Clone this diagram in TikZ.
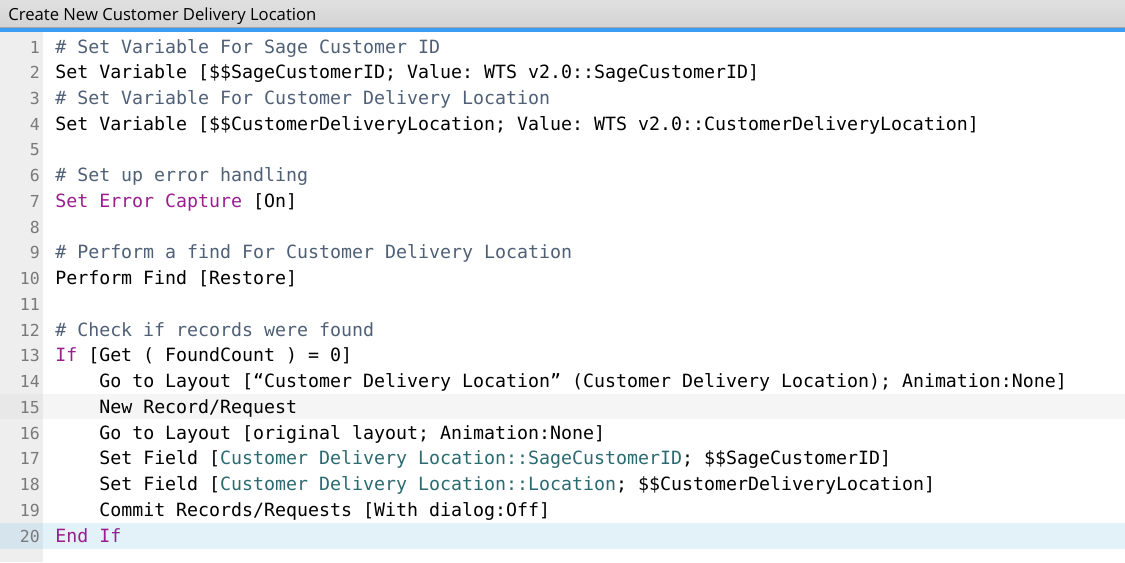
\documentclass[tikz,border=0pt]{standalone}
\usepackage{fontspec}
\setmainfont{Open Sans}
\newfontfamily\codefont{DejaVu Sans Mono}
\usetikzlibrary{positioning}
\definecolor{cmtgray}{HTML}{4F6076}
\definecolor{kwpurple}{HTML}{9A1E8E}
\definecolor{fldteal}{HTML}{2A6A70}
\definecolor{barblue}{HTML}{3A9CF2}
\definecolor{gutgray}{HTML}{EEEEEE}
\definecolor{curline}{HTML}{E3F1F9}
\definecolor{curgut}{HTML}{D6E4EE}
\newcommand{\rowy}[1]{53+(#1-1)*25.74}

\begin{document}
\begin{tikzpicture}[x=0.75pt,y=-0.75pt,
    code/.style={anchor=base west,inner sep=0pt,font=\codefont\fontsize{13.7}{16}\selectfont\frenchspacing},
    cmt/.style={code,text=cmtgray},
    lnum/.style={anchor=base east,inner sep=0pt,text=black!52,font=\codefont\fontsize{12.4}{14}\selectfont}]
        \useasboundingbox (0,0) rectangle (1125,562);
        % window frame
        \fill[top color=black!12,bottom color=black!17] (0,0) rectangle (1125,27);
        \draw[black!35] (0,27.5) -- (1125,27.5);
        \fill[barblue] (0,28) rectangle (1125,32);
        \fill[gutgray] (0,32) rectangle (43,562);
        \fill[black!4] (43,394) rectangle (1125,419);
        \fill[black!9] (0,394) rectangle (43,419);
        \fill[curline] (43,523) rectangle (1125,549);
        \fill[curgut] (0,523) rectangle (43,549);
        \node[anchor=base west,inner sep=0pt,font=\fontsize{12.5}{14}\selectfont] (title) at (8,20.5) {Create New Customer Delivery Location};
        % line numbers
        \foreach \i in {1,...,20}
            \node[lnum] (n\i) at (40,{\rowy{\i}}) {\i};
        % script steps
        \node[cmt] (l1) at (55,{\rowy{1}}) {\# Set Variable For Sage Customer ID};
        \node[code] (l2) at (55,{\rowy{2}}) {Set Variable [\$\$SageCustomerID; Value: WTS v2.0::SageCustomerID]};
        \node[cmt] (l3) at (55,{\rowy{3}}) {\# Set Variable For Customer Delivery Location};
        \node[code] (l4) at (55,{\rowy{4}}) {Set Variable [\$\$CustomerDeliveryLocation; Value: WTS v2.0::CustomerDeliveryLocation]};
        \node[cmt] (l6) at (55,{\rowy{6}}) {\# Set up error handling};
        \node[code] (l7) at (55,{\rowy{7}}) {{\color{kwpurple}Set Error Capture} [On]};
        \node[cmt] (l9) at (55,{\rowy{9}}) {\# Perform a find For Customer Delivery Location};
        \node[code] (l10) at (55,{\rowy{10}}) {Perform Find [Restore]};
        \node[cmt] (l12) at (55,{\rowy{12}}) {\# Check if records were found};
        \node[code] (l13) at (55,{\rowy{13}}) {{\color{kwpurple}If} [Get ( FoundCount ) = 0]};
        \node[code] (l14) at (99,{\rowy{14}}) {Go to Layout [“Customer Delivery Location” (Customer Delivery Location); Animation:None]};
        \node[code] (l15) at (99,{\rowy{15}}) {New Record/Request};
        \node[code] (l16) at (99,{\rowy{16}}) {Go to Layout [original layout; Animation:None]};
        \node[code] (l17) at (99,{\rowy{17}}) {Set Field [{\color{fldteal}Customer Delivery Location::SageCustomerID}; \$\$SageCustomerID]};
        \node[code] (l18) at (99,{\rowy{18}}) {Set Field [{\color{fldteal}Customer Delivery Location::Location}; \$\$CustomerDeliveryLocation]};
        \node[code] (l19) at (99,{\rowy{19}}) {Commit Records/Requests [With dialog:Off]};
        \node[code,text=kwpurple] (l20) at (55,{\rowy{20}}) {End If};
    \end{tikzpicture}
\end{document}
